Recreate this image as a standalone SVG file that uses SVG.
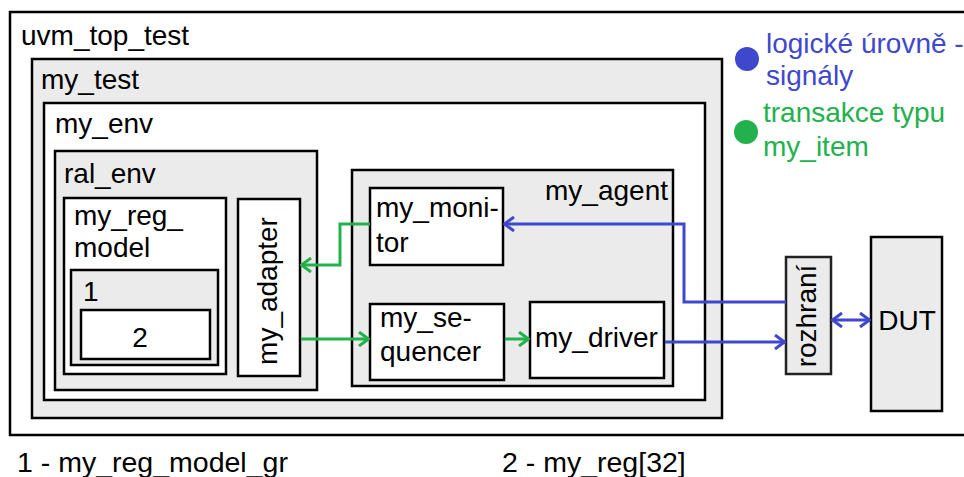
<svg xmlns="http://www.w3.org/2000/svg" width="964" height="477" viewBox="0 0 964 477">
<style>
text{font-family:"Liberation Sans",Arial,sans-serif;font-size:28px;fill:#000}
.g{fill:#ebebeb;stroke:#000;stroke-width:2.5}
.w{fill:#fff;stroke:#000;stroke-width:2.5}
.cg{fill:none;stroke:#22b14c;stroke-width:3}
.cb{fill:none;stroke:#3f48cc;stroke-width:3}
</style>
<defs>
<marker id="ag" viewBox="0 0 12 16" refX="11" refY="8" markerWidth="12" markerHeight="16" markerUnits="userSpaceOnUse" orient="auto-start-reverse">
<path d="M1,1 L10.5,8 L1,15" fill="none" stroke="#22b14c" stroke-width="3"/>
</marker>
<marker id="ab" viewBox="0 0 12 16" refX="11" refY="8" markerWidth="12" markerHeight="16" markerUnits="userSpaceOnUse" orient="auto-start-reverse">
<path d="M1,1 L10.5,8 L1,15" fill="none" stroke="#3f48cc" stroke-width="3"/>
</marker>
</defs>
<rect width="964" height="477" fill="#fff"/>
<g id="uvm_top_test">
<rect x="10" y="12" width="980" height="423" fill="#fff" stroke="#000" stroke-width="2.5"/>
<text x="21" y="45">uvm_top_test</text>
</g>
<g id="my_test">
<rect class="g" x="32" y="59" width="690" height="359"/>
<text x="41" y="89">my_test</text>
</g>
<g id="my_env">
<rect class="w" x="44" y="103" width="661" height="297"/>
<text x="55" y="133">my_env</text>
</g>
<g id="ral_env">
<rect class="g" x="55" y="151" width="262" height="239"/>
<text x="64" y="183">ral_env</text>
</g>
<g id="my_reg_model">
<rect class="w" x="64" y="198" width="162" height="176"/>
<text x="74" y="225">my_reg_</text>
<text x="74" y="257">model</text>
</g>
<g id="box1">
<rect class="g" x="71" y="270" width="147" height="95"/>
<text x="83" y="301">1</text>
</g>
<g id="box2">
<rect class="w" x="81" y="310" width="129" height="49"/>
<text x="140" y="347" text-anchor="middle">2</text>
</g>
<g id="my_adapter">
<rect class="w" x="238" y="199" width="62" height="177"/>
<text transform="translate(277,291) rotate(-90)" text-anchor="middle">my_adapter</text>
</g>
<g id="my_agent">
<rect class="g" x="352" y="170" width="321" height="216"/>
<text x="668" y="200" text-anchor="end">my_agent</text>
</g>
<g id="my_monitor">
<rect class="w" x="370" y="188" width="133" height="77"/>
<text x="376" y="217">my_moni-</text>
<text x="376" y="252">tor</text>
</g>
<g id="my_sequencer">
<rect class="w" x="370" y="304" width="134" height="76"/>
<text x="380" y="327">my_se-</text>
<text x="380" y="361">quencer</text>
</g>
<g id="my_driver">
<rect class="w" x="530" y="302" width="134" height="76"/>
<text x="535" y="347">my_driver</text>
</g>
<g id="rozhrani">
<rect x="786" y="257" width="45" height="117" fill="#ebebeb" stroke="#222" stroke-width="2.5"/>
<text transform="translate(816,316) rotate(-90)" text-anchor="middle">rozhraní</text>
</g>
<g id="DUT">
<rect class="g" x="871" y="237" width="71" height="174"/>
<text x="907" y="330" text-anchor="middle">DUT</text>
</g>
<g id="connectors">
<path class="cg" d="M370,224 H340 V265 H301" marker-end="url(#ag)"/>
<path class="cg" d="M301,339 H369" marker-end="url(#ag)"/>
<path class="cg" d="M505,339 H529" marker-end="url(#ag)"/>
<path class="cb" d="M665,342 H785" marker-end="url(#ab)"/>
<path class="cb" d="M786,302 H684 V224 H504" marker-end="url(#ab)"/>
<path class="cb" d="M832,320 H870" marker-start="url(#ab)" marker-end="url(#ab)"/>
</g>
<g id="legend">
<circle cx="747" cy="59" r="12" fill="#3f48cc"/>
<text x="766" y="53" style="fill:#3f48cc">logické úrovně -</text>
<text x="766" y="85" style="fill:#3f48cc">signály</text>
<circle cx="746" cy="132" r="12" fill="#22b14c"/>
<text x="763" y="122" style="fill:#22b14c">transakce typu</text>
<text x="763" y="156" style="fill:#22b14c">my_item</text>
</g>
<g id="notes">
<text x="17" y="472" style="font-size:28.5px">1 - my_reg_model_gr</text>
<text x="502" y="472" style="font-size:28.5px">2 - my_reg[32]</text>
</g>
</svg>
